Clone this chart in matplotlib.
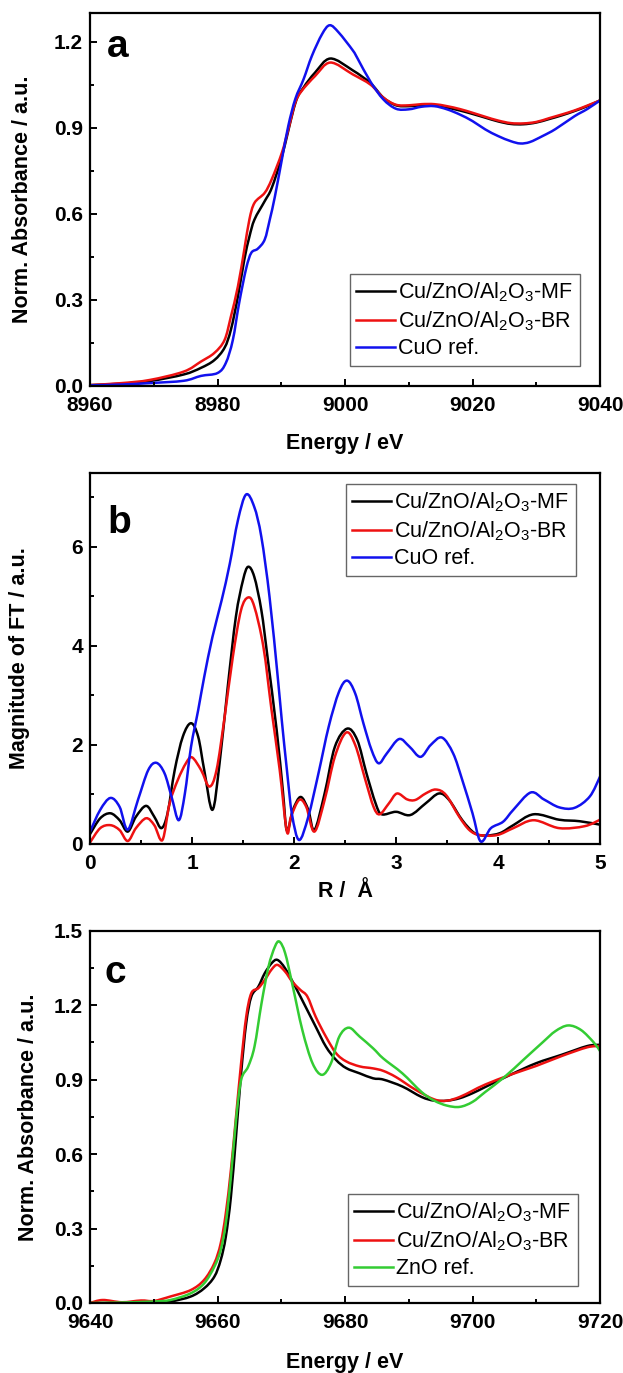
import matplotlib
matplotlib.use("Agg")
import matplotlib.pyplot as plt
from matplotlib.ticker import MultipleLocator
from matplotlib.path import Path
from matplotlib.patches import PathPatch
from matplotlib.lines import Line2D

plt.rcParams["font.family"] = ["Liberation Sans", "DejaVu Sans"]
plt.rcParams["mathtext.fontset"] = "custom"
plt.rcParams["mathtext.rm"] = "Liberation Sans"

# ---- Cu K-edge XANES (panel a) ----
cu_mf_e = [8960, 8965, 8969.4, 8974.7, 8977.4, 8979.5, 8981.1, 8982.1, 8983.2, 8984.2, 8985, 8985.8,
           8987.4, 8988.5, 8990.1, 8992.2, 8993.5, 8995.3, 8997.7, 9001.2, 9004, 9006, 9008, 9010,
           9012, 9014, 9016, 9018, 9020, 9022, 9024, 9026, 9028, 9030, 9032, 9034, 9036, 9038, 9040]
cu_mf = [0.003, 0.008, 0.017, 0.04, 0.063, 0.09, 0.133, 0.196, 0.312, 0.44, 0.52, 0.58,
         0.644, 0.69, 0.80, 0.985, 1.04, 1.092, 1.141, 1.10, 1.055, 1.005, 0.978, 0.975,
         0.978, 0.978, 0.97, 0.96, 0.948, 0.935, 0.922, 0.913, 0.912, 0.918, 0.93, 0.943, 0.958, 0.975, 0.995]

cu_br_e = [8960, 8965, 8969.4, 8974.7, 8977.4, 8979.5, 8981.1, 8982.1, 8983.2, 8984.2, 8985, 8985.8,
           8987.4, 8988.5, 8990.1, 8991.1, 8992.2, 8993.2, 8995.3, 8997.7, 9001.2, 9004, 9006, 9008,
           9010, 9012, 9014, 9016, 9018, 9020, 9022, 9024, 9026, 9028, 9030, 9032, 9034, 9036, 9038, 9040]
cu_br = [0.003, 0.01, 0.021, 0.05, 0.085, 0.115, 0.16, 0.242, 0.347, 0.475, 0.58, 0.638,
         0.673, 0.72, 0.813, 0.894, 0.988, 1.028, 1.08, 1.127, 1.086, 1.05, 1.005, 0.98,
         0.978, 0.982, 0.982, 0.975, 0.965, 0.952, 0.938, 0.925, 0.916, 0.915, 0.92, 0.933, 0.946, 0.96, 0.977, 0.995]

cuo_e = [8960, 8965, 8969.4, 8974.7, 8977.4, 8980, 8981.3, 8982.4, 8983.4, 8984.5, 8985.3, 8986.3,
         8987.4, 8988.2, 8989, 8990.1, 8991.1, 8992.2, 8993.5, 8994.8, 8996.4, 8997.6, 8999, 9001.2,
         9002, 9004, 9006, 9008, 9010, 9012, 9014, 9016, 9018, 9020, 9022, 9024, 9026, 9027.5,
         9029, 9031, 9033, 9036, 9038, 9040]
cuo = [0.002, 0.005, 0.01, 0.018, 0.035, 0.045, 0.08, 0.16, 0.29, 0.41, 0.464, 0.478,
       0.51, 0.58, 0.66, 0.79, 0.906, 1.0, 1.069, 1.15, 1.226, 1.257, 1.232, 1.17,
       1.14, 1.06, 0.999, 0.966, 0.964, 0.973, 0.975, 0.964, 0.946, 0.923, 0.894, 0.871, 0.853, 0.845,
       0.85, 0.871, 0.895, 0.94, 0.965, 0.995]

# ---- Fourier transforms (panel b) ----
ft_mf_r = [0.0, 0.1, 0.2, 0.29, 0.37, 0.45, 0.55, 0.63, 0.70, 0.76, 0.83, 0.91, 0.99, 1.06, 1.12, 1.2,
           1.27, 1.35, 1.43, 1.5, 1.55, 1.61, 1.68, 1.74, 1.83, 1.89, 1.93, 1.99, 2.065, 2.14, 2.2,
           2.30, 2.4, 2.52, 2.62, 2.71, 2.80, 2.86, 3.0, 3.14, 3.29, 3.42, 3.52, 3.65, 3.77, 3.88,
           4.02, 4.15, 4.35, 4.6, 4.8, 5.0]
ft_mf = [0.2, 0.52, 0.62, 0.48, 0.25, 0.55, 0.77, 0.55, 0.32, 0.62, 1.49, 2.17, 2.44, 2.17, 1.49, 0.69,
         1.63, 3.17, 4.59, 5.33, 5.6, 5.4, 4.72, 3.78, 2.3, 1.09, 0.27, 0.69, 0.95, 0.69, 0.28,
         1.02, 1.96, 2.33, 2.1, 1.43, 0.82, 0.6, 0.65, 0.585, 0.82, 1.02, 0.89, 0.48, 0.22, 0.17,
         0.22, 0.38, 0.6, 0.49, 0.46, 0.39]

ft_br_r = [0.0, 0.1, 0.2, 0.29, 0.37, 0.45, 0.55, 0.63, 0.71, 0.78, 0.86, 0.94, 1.0, 1.09, 1.17, 1.24,
           1.32, 1.40, 1.48, 1.55, 1.61, 1.70, 1.78, 1.86, 1.93, 1.97, 2.05, 2.12, 2.2, 2.3, 2.4,
           2.51, 2.6, 2.70, 2.78, 2.84, 2.93, 3.01, 3.11, 3.19, 3.29, 3.39, 3.49, 3.62, 3.72, 3.82,
           3.99, 4.15, 4.35, 4.6, 4.85, 5.0]
ft_br = [0.03, 0.32, 0.38, 0.28, 0.06, 0.32, 0.52, 0.38, 0.08, 0.82, 1.29, 1.63, 1.75, 1.49, 1.16, 1.49,
         2.57, 3.78, 4.72, 4.98, 4.8, 3.98, 2.7, 1.49, 0.25, 0.55, 0.89, 0.75, 0.25, 0.89, 1.76,
         2.25, 2.0, 1.29, 0.75, 0.6, 0.82, 1.02, 0.9, 0.89, 1.02, 1.10, 0.99, 0.55, 0.28, 0.18,
         0.18, 0.32, 0.48, 0.32, 0.36, 0.49]

ft_cuo_r = [0.0, 0.1, 0.2, 0.29, 0.37, 0.47, 0.57, 0.65, 0.73, 0.80, 0.87, 0.93, 0.99, 1.06, 1.12, 1.2,
            1.29, 1.37, 1.45, 1.53, 1.61, 1.68, 1.76, 1.84, 1.88, 1.93, 1.98, 2.05, 2.14, 2.24, 2.34,
            2.44, 2.52, 2.60, 2.68, 2.76, 2.83, 2.91, 3.03, 3.13, 3.24, 3.34, 3.45, 3.56, 3.65, 3.75,
            3.83, 3.93, 4.05, 4.15, 4.32, 4.45, 4.6, 4.75, 4.9, 5.0]
ft_cuo = [0.25, 0.69, 0.93, 0.75, 0.29, 0.89, 1.49, 1.64, 1.43, 0.95, 0.48, 1.02, 1.96, 2.70, 3.38, 4.18,
          4.92, 5.66, 6.54, 7.06, 6.81, 6.2, 4.99, 3.38, 2.5, 1.5, 0.6, 0.08, 0.55, 1.43, 2.37,
          3.07, 3.30, 3.04, 2.44, 1.90, 1.63, 1.83, 2.12, 1.97, 1.76, 2.0, 2.15, 1.83, 1.29, 0.62,
          0.05, 0.32, 0.45, 0.69, 1.04, 0.9, 0.74, 0.73, 0.96, 1.36]

# ---- Zn K-edge XANES (panel c) ----
zn_mf_e = [9640, 9645, 9650, 9652.6, 9655.8, 9657.9, 9659.5, 9660.5, 9661.3, 9662.1, 9662.9, 9663.7,
           9664.5, 9665.3, 9666.4, 9667.4, 9668.5, 9669.4, 9670.6, 9672.2, 9673.8, 9675.4, 9677.0,
           9678.6, 9680.2, 9682.3, 9684.4, 9686, 9689, 9692, 9694, 9696, 9698, 9700, 9702, 9706,
           9710, 9714, 9718, 9720]
zn_mf = [0.0, 0.0, 0.003, 0.006, 0.026, 0.059, 0.106, 0.173, 0.267, 0.428, 0.67, 0.925,
         1.127, 1.234, 1.274, 1.328, 1.369, 1.382, 1.348, 1.274, 1.194, 1.113, 1.033,
         0.979, 0.946, 0.925, 0.905, 0.90, 0.872, 0.83, 0.815, 0.815, 0.825, 0.845, 0.87, 0.92,
         0.966, 1.0, 1.035, 1.04]

zn_br_e = [9640, 9642, 9645, 9648, 9650, 9652.6, 9655.8, 9657.9, 9659.5, 9660.5, 9661.3, 9662.1, 9662.9,
           9663.7, 9664.5, 9665.3, 9666.4, 9667.4, 9668.5, 9669.4, 9670.6, 9671.7, 9673.0, 9674.1,
           9675.4, 9677.0, 9678.6, 9680.2, 9682.3, 9684.4, 9686, 9688, 9691, 9694, 9696, 9698, 9700,
           9702, 9706, 9710, 9714, 9718, 9720]
zn_br = [0.0, 0.012, 0.003, 0.01, 0.008, 0.026, 0.052, 0.093, 0.16, 0.24, 0.361, 0.536, 0.75,
         0.966, 1.153, 1.248, 1.268, 1.301, 1.344, 1.362, 1.335, 1.295, 1.261, 1.234,
         1.153, 1.073, 1.006, 0.973, 0.953, 0.945, 0.935, 0.91, 0.86, 0.82, 0.815, 0.83, 0.855,
         0.88, 0.92, 0.955, 0.995, 1.03, 1.035]

zno_e = [9640, 9645, 9650, 9652.6, 9655.8, 9657.9, 9659.5, 9660.5, 9661.3, 9662.1, 9662.9, 9663.7,
         9664.8, 9665.8, 9666.9, 9668.0, 9669.0, 9669.7, 9670.6, 9671.7, 9673.3, 9674.9, 9676.4,
         9677.8, 9679.1, 9680.6, 9682.3, 9684.4, 9686, 9689, 9692, 9694, 9696, 9698, 9700, 9702,
         9705, 9708, 9711, 9713, 9715, 9717, 9719, 9720]
zno = [0.0, 0.002, 0.006, 0.012, 0.039, 0.079, 0.146, 0.214, 0.321, 0.509, 0.737, 0.898,
       0.952, 1.033, 1.207, 1.355, 1.435, 1.456, 1.41, 1.288, 1.1, 0.966, 0.919,
       0.966, 1.073, 1.109, 1.073, 1.026, 0.985, 0.925, 0.85, 0.815, 0.795, 0.79, 0.81, 0.85,
       0.91, 0.98, 1.05, 1.095, 1.118, 1.10, 1.05, 1.015]

lab_mf = "Cu/ZnO/Al$_\\mathregular{2}$O$_\\mathregular{3}$-MF"
lab_br = "Cu/ZnO/Al$_\\mathregular{2}$O$_\\mathregular{3}$-BR"

RED = "#ee1111"
BLUE = "#1111ee"
GREEN = "#33cc33"
LW = 1.8


def spline_curve(ax, x, y, color, label):
    # spline-connected line (Catmull-Rom segments as cubic Beziers) through the points
    pts = list(zip(x, y))
    n = len(pts)
    verts = [pts[0]]
    codes = [Path.MOVETO]
    for i in range(n - 1):
        p0 = pts[i - 1] if i > 0 else pts[i]
        p1 = pts[i]
        p2 = pts[i + 1]
        p3 = pts[i + 2] if i + 2 < n else pts[i + 1]
        c1 = (p1[0] + (p2[0] - p0[0]) / 6, p1[1] + (p2[1] - p0[1]) / 6)
        c2 = (p2[0] - (p3[0] - p1[0]) / 6, p2[1] - (p3[1] - p1[1]) / 6)
        verts += [c1, c2, p2]
        codes += [Path.CURVE4] * 3
    ax.add_patch(PathPatch(Path(verts, codes), facecolor="none", edgecolor=color,
                           lw=LW, joinstyle="round", capstyle="round"))
    return Line2D([], [], color=color, lw=LW, label=label)


fig = plt.figure(figsize=(6.23, 13.73), dpi=100)
ax_a = fig.add_axes([0.1445, 0.7189, 0.8186, 0.2717])
ax_b = fig.add_axes([0.1445, 0.3853, 0.8186, 0.2704])
ax_c = fig.add_axes([0.1445, 0.0510, 0.8186, 0.2712])

handles = {}
handles["a"] = [spline_curve(ax_a, cu_mf_e, cu_mf, "black", lab_mf),
                spline_curve(ax_a, cu_br_e, cu_br, RED, lab_br),
                spline_curve(ax_a, cuo_e, cuo, BLUE, "CuO ref.")]
handles["b"] = [spline_curve(ax_b, ft_mf_r, ft_mf, "black", lab_mf),
                spline_curve(ax_b, ft_br_r, ft_br, RED, lab_br),
                spline_curve(ax_b, ft_cuo_r, ft_cuo, BLUE, "CuO ref.")]
handles["c"] = [spline_curve(ax_c, zn_mf_e, zn_mf, "black", lab_mf),
                spline_curve(ax_c, zn_br_e, zn_br, RED, lab_br),
                spline_curve(ax_c, zno_e, zno, GREEN, "ZnO ref.")]

ax_a.set_xlim(8960, 9040)
ax_a.set_ylim(0, 1.3)
ax_a.xaxis.set_major_locator(MultipleLocator(20))
ax_a.xaxis.set_minor_locator(MultipleLocator(10))
ax_a.yaxis.set_major_locator(MultipleLocator(0.3))
ax_a.yaxis.set_minor_locator(MultipleLocator(0.15))
ax_a.yaxis.set_major_formatter(lambda v, p: f"{v:.1f}")

ax_b.set_xlim(0, 5)
ax_b.set_ylim(0, 7.5)
ax_b.xaxis.set_major_locator(MultipleLocator(1))
ax_b.xaxis.set_minor_locator(MultipleLocator(0.5))
ax_b.yaxis.set_major_locator(MultipleLocator(2))
ax_b.yaxis.set_minor_locator(MultipleLocator(1))

ax_c.set_xlim(9640, 9720)
ax_c.set_ylim(0, 1.5)
ax_c.xaxis.set_major_locator(MultipleLocator(20))
ax_c.xaxis.set_minor_locator(MultipleLocator(10))
ax_c.yaxis.set_major_locator(MultipleLocator(0.3))
ax_c.yaxis.set_minor_locator(MultipleLocator(0.15))
ax_c.yaxis.set_major_formatter(lambda v, p: f"{v:.1f}")

ax_a.set_xlabel("Energy / eV", fontsize=15.5, fontweight="bold", va="top")
ax_a.set_ylabel("Norm. Absorbance / a.u.", fontsize=15.5, fontweight="bold")
ax_b.set_xlabel("R /  Å", fontsize=15.5, fontweight="bold", va="top")
ax_b.set_ylabel("Magnitude of FT / a.u.", fontsize=15.5, fontweight="bold")
ax_c.set_xlabel("Energy / eV", fontsize=15.5, fontweight="bold", va="top")
ax_c.set_ylabel("Norm. Absorbance / a.u.", fontsize=15.5, fontweight="bold")

ax_a.xaxis.set_label_coords(0.5, -0.126)
ax_b.xaxis.set_label_coords(0.5, -0.100)
ax_c.xaxis.set_label_coords(0.5, -0.132)
ax_a.yaxis.set_label_coords(-0.111, 0.5)
ax_b.yaxis.set_label_coords(-0.117, 0.5)
ax_c.yaxis.set_label_coords(-0.100, 0.5)

panel_pos = {"a": (0.033, 0.882), "b": (0.035, 0.838), "c": (0.028, 0.86)}
legend_anchor = {"a": ("lower right", (0.96, 0.054)),
                 "b": ("upper right", (0.952, 0.97)),
                 "c": ("lower right", (0.956, 0.046))}

for key, ax in zip("abc", [ax_a, ax_b, ax_c]):
    for side in ax.spines.values():
        side.set_linewidth(1.6)
    ax.tick_params(which="both", direction="in", top=False, right=False,
                   labelsize=15, width=1.4)
    ax.tick_params(which="major", length=5, pad=5)
    ax.tick_params(axis="x", which="major", pad=7)
    ax.tick_params(which="minor", length=2.8)
    for lbl in ax.get_xticklabels() + ax.get_yticklabels():
        lbl.set_fontweight("bold")
    ax.text(panel_pos[key][0], panel_pos[key][1], key, transform=ax.transAxes,
            fontsize=28, fontweight="bold", ha="left", va="baseline")
    loc, anchor = legend_anchor[key]
    leg = ax.legend(handles=handles[key], loc=loc, bbox_to_anchor=anchor, fontsize=15.5,
                    frameon=True, fancybox=False, borderpad=0.3, labelspacing=0.25,
                    handlelength=1.8, handletextpad=0.15, borderaxespad=0)
    leg.get_frame().set_edgecolor("#404040")
    leg.get_frame().set_linewidth(1.0)

fig.savefig("out.png", dpi=100)
